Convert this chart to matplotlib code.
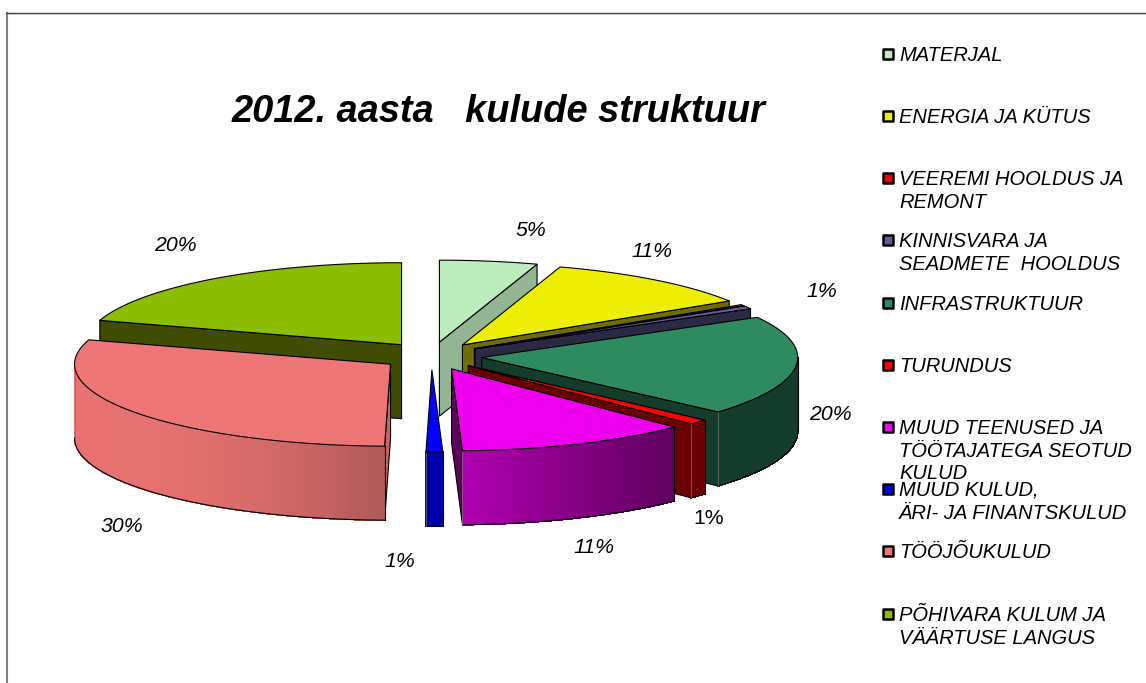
import numpy as np
import matplotlib
matplotlib.use("Agg")
import matplotlib.pyplot as plt
from matplotlib.patches import Polygon, Rectangle
from matplotlib.colors import to_rgb

plt.rcParams["font.family"] = ["Liberation Sans", "DejaVu Sans"]

TITLE = "2012. aasta   kulude struktuur"
CATEGORIES = ["MATERJAL", "ENERGIA JA KÜTUS", "VEEREMI HOOLDUS JA\nREMONT",
              "KINNISVARA JA\nSEADMETE  HOOLDUS", "INFRASTRUKTUUR", "TURUNDUS",
              "MUUD TEENUSED JA\nTÖÖTAJATEGA SEOTUD\nKULUD",
              "MUUD KULUD,\nÄRI- JA FINANTSKULUD", "TÖÖJÕUKULUD",
              "PÕHIVARA KULUM JA\nVÄÄRTUSE LANGUS"]
VALUES = [5.0, 11.0, 0.25, 0.6, 19.7, 1.0, 11.9, 0.85, 29.5, 20.2]
PCT_LABELS = ["5%", "11%", "", "1%", "20%", "1%", "11%", "1%", "30%", "20%"]
TOP_COLORS = ["#BDEDBD", "#EEEE00", "#FF0000", "#60609A", "#2E8B60", "#FF0000",
              "#EE00EE", "#0000FF", "#EE7676", "#8CBD00"]
SIDE_COLORS = ["#93B593", "#6E6E00", "#7A0000", "#2A2A45", "#143C2A", "#6A0000",
               "#5E005E", "#0000AA", "#C86464", "#404C00"]
RIM_LEFT = ["#93B593", "#6E6E00", "#7A0000", "#2A2A45", "#143C2A", "#6A0000",
            "#B000B0", "#0000AA", "#E87272", "#404C00"]
RIM_RIGHT = ["#93B593", "#6E6E00", "#7A0000", "#2A2A45", "#143C2A", "#6A0000",
             "#5E005E", "#0000AA", "#B05858", "#404C00"]
RIM_GAMMA = [1, 1, 1, 1, 1, 1, 1, 1, 2.2, 1]
LABEL_POS = [(531, 229), (652, 250), None, (822, 290), (830, 413), (709, 517),
             (594, 546), (400, 560), (122, 525), (175, 244)]
LABEL_STYLE = ["italic", "italic", "italic", "italic", "italic", "normal",
               "italic", "italic", "italic", "italic"]
LEGEND_Y = [54, 116, 178, 240, 303, 365, 427, 489, 551, 614]
LEGEND_LINE_STEP = 22.7
DRAW_ORDER = [9, 0, 1, 2, 3, 4, 5, 6, 7, 8]

CX, CY, RX, RY, DEPTH = 431.5, 356, 316, 82, 74
EX, EY = 50.5, 14

fig = plt.figure(figsize=(11.46, 6.83), dpi=100)
ax = fig.add_axes([0, 0, 1, 1])
ax.set_xlim(0, 1146)
ax.set_ylim(683, 0)
ax.axis("off")

ax.plot([7, 7], [12, 683], color="#808080", lw=1.5, zorder=0, solid_capstyle="butt")
ax.plot([6, 1146], [12.7, 12.7], color="#404040", lw=1.0, zorder=0, solid_capstyle="butt")
ax.plot([8, 1146], [13.8, 13.8], color="#C8C8C8", lw=0.7, zorder=0, solid_capstyle="butt")

total = sum(VALUES)
edges = np.concatenate([[0], np.cumsum(VALUES)]) / total * 360.0
z = 1


def pt(deg, ox, oy, dz=0.0):
    t = np.radians(deg)
    return ox + RX * np.sin(t), oy - RY * np.cos(t) + dz


def mix(c1, c2, f):
    a, b = np.array(to_rgb(c1)), np.array(to_rgb(c2))
    return tuple(a + (b - a) * f)


for i in DRAW_ORDER:
    s, e = edges[i], edges[i + 1]
    m = np.radians((s + e) / 2)
    ox, oy = CX + EX * np.sin(m), CY - EY * np.cos(m)
    faces = []
    if np.sin(np.radians(s)) < 0:
        faces.append(s)
    if np.sin(np.radians(e)) > 0:
        faces.append(e)
    for a in faces:
        x1, y1 = pt(a, ox, oy)
        poly = [(ox, oy), (x1, y1), (x1, y1 + DEPTH), (ox, oy + DEPTH)]
        ax.add_patch(Polygon(poly, closed=True, fc=SIDE_COLORS[i], ec="black", lw=0.8, zorder=z))
        z += 1
    lo, hi = max(s, 90), min(e, 270)
    if hi > lo:
        ang = np.linspace(lo, hi, max(2, int((hi - lo) * 2)))
        xs = [pt(a, ox, oy)[0] for a in ang]
        xmin, xmax = min(xs), max(xs)
        for a0, a1 in zip(ang[:-1], ang[1:]):
            p0, p1 = pt(a0, ox, oy), pt(a1, ox, oy)
            f = ((p0[0] + p1[0]) / 2 - xmin) / max(xmax - xmin, 1)
            col = mix(RIM_LEFT[i], RIM_RIGHT[i], f ** RIM_GAMMA[i])
            ax.add_patch(Polygon([p0, p1, (p1[0], p1[1] + DEPTH), (p0[0], p0[1] + DEPTH)],
                                 closed=True, fc=col, ec=col, lw=0.5, antialiased=False, zorder=z))
        z += 1
        top = [pt(a, ox, oy) for a in ang]
        bot = [(x, y + DEPTH) for x, y in top]
        ax.plot(*zip(*bot), color="black", lw=0.8, zorder=z)
        ax.plot([top[0][0], bot[0][0]], [top[0][1], bot[0][1]], color="black", lw=0.8, zorder=z)
        ax.plot([top[-1][0], bot[-1][0]], [top[-1][1], bot[-1][1]], color="#777777", lw=0.5, zorder=z)
        z += 1
    ang = np.linspace(s, e, max(2, int((e - s) * 2)))
    poly = [(ox, oy)] + [pt(a, ox, oy) for a in ang]
    ax.add_patch(Polygon(poly, closed=True, fc=TOP_COLORS[i], ec="black", lw=0.8,
                         joinstyle="round", zorder=z))
    z += 1

tz = z + 1
ax.text(499, 111.5, TITLE, fontsize=27.4, fontweight="bold", fontstyle="italic",
        ha="center", va="center", color="black", zorder=tz)

for lab, pos, st in zip(PCT_LABELS, LABEL_POS, LABEL_STYLE):
    if pos is not None:
        ax.text(pos[0], pos[1] + 1.5, lab, fontsize=15.3, fontstyle=st,
                ha="center", va="center", color="black", zorder=tz)

for cat, col, y in zip(CATEGORIES, TOP_COLORS, LEGEND_Y):
    ax.add_patch(Rectangle((883, y - 5), 10, 10, fc=col, ec="black", lw=1.8,
                           joinstyle="round", zorder=tz))
    for k, line in enumerate(cat.split("\n")):
        ax.text(899, y + 1.5 + k * LEGEND_LINE_STEP, line, fontsize=14.5, fontstyle="italic",
                ha="left", va="center", color="black", zorder=tz + k + 1)

fig.savefig("out.png", dpi=100)
